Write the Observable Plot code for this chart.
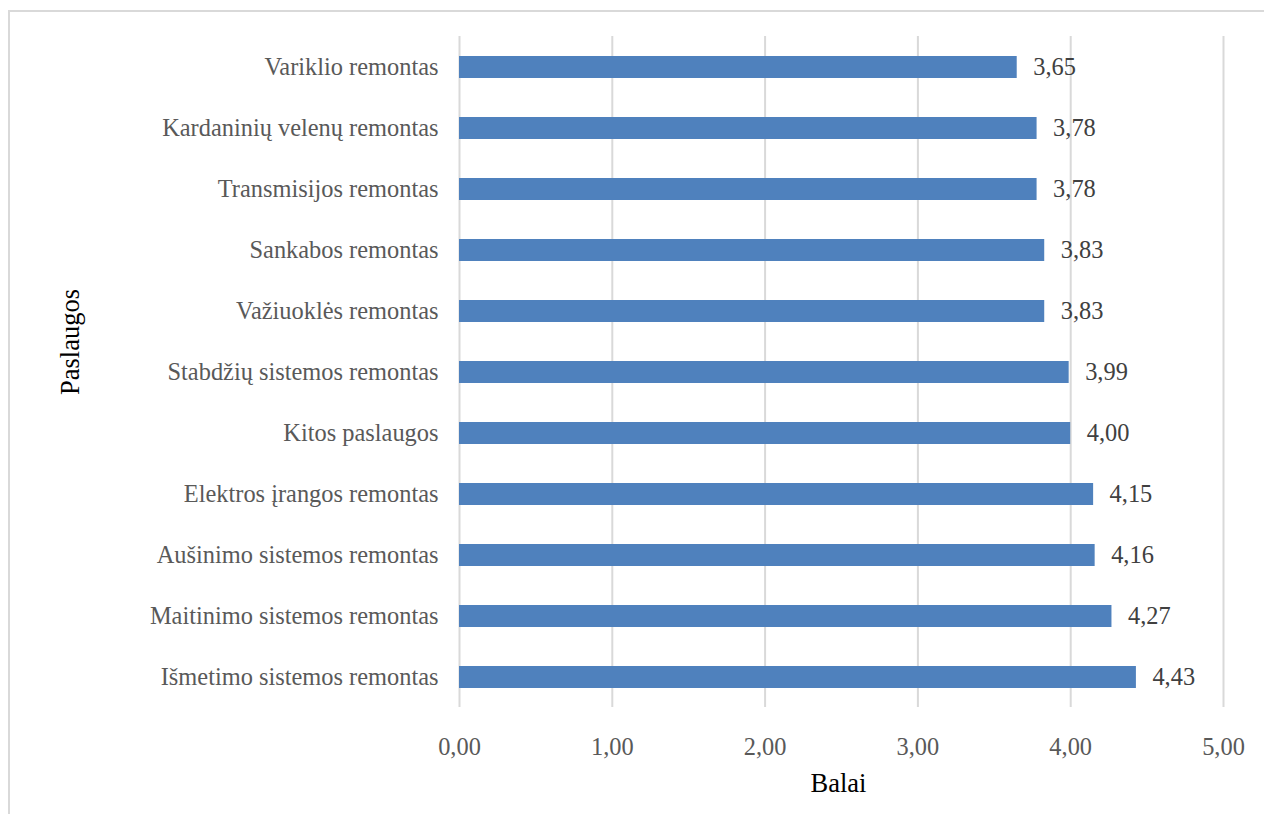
<!DOCTYPE html>
<html>
<head>
<meta charset="utf-8">
<script src="https://cdn.jsdelivr.net/npm/d3@7"></script>
<script src="https://cdn.jsdelivr.net/npm/@observablehq/plot@0.6"></script>
<style>
  html, body { margin: 0; padding: 0; background: #fff; overflow: hidden; }
  #frame { position: absolute; left: 8px; top: 10px; width: 1400px; height: 1000px; border: 2px solid #d9d9d9; box-sizing: border-box; }
  #chart { position: absolute; left: 0; top: 0; }
</style>
</head>
<body>
<div id="frame"></div>
<div id="chart"></div>
<script>
const categories = [
  "Variklio remontas",
  "Kardaninių velenų remontas",
  "Transmisijos remontas",
  "Sankabos remontas",
  "Važiuoklės remontas",
  "Stabdžių sistemos remontas",
  "Kitos paslaugos",
  "Elektros įrangos remontas",
  "Aušinimo sistemos remontas",
  "Maitinimo sistemos remontas",
  "Išmetimo sistemos remontas"
];
const values = [3.65, 3.78, 3.78, 3.83, 3.83, 3.99, 4.00, 4.15, 4.16, 4.27, 4.43];
const xTicks = [0, 1, 2, 3, 4, 5];
const xTitle = "Balai";
const yTitle = "Paslaugos";

const data = categories.map((c, i) => ({cat: c, value: values[i]}));
const fmt = v => d3.format(".2f")(v).replace(".", ",");

const chart = Plot.plot({
  width: 1264,
  height: 814,
  marginLeft: 459,
  marginRight: 41,
  marginTop: 36,
  marginBottom: 107,
  style: {fontFamily: "'Liberation Serif', 'Times New Roman', serif", fontSize: "24.4px", color: "#595959", background: "transparent"},
  x: {domain: [0, 5], label: null},
  y: {domain: categories, paddingInner: 0.64, paddingOuter: 0.32, label: null},
  marks: [
    Plot.gridX(xTicks, {stroke: "#d9d9d9", strokeOpacity: 1, strokeWidth: 2}),
    Plot.barX(data, {x: "value", y: "cat", fill: "#4f81bd"}),
    Plot.text(data, {x: "value", y: "cat", text: d => fmt(d.value), textAnchor: "start", dx: 16, fill: "#404040"}),
    Plot.axisX(xTicks, {tickSize: 0, tickPadding: 30, tickFormat: fmt, label: null}),
    Plot.axisY({tickSize: 0, tickPadding: 21, label: null}),
    Plot.text([xTitle], {frameAnchor: "bottom", lineAnchor: "middle", dy: 76, dx: -3, fill: "#000", fontSize: 26.5}),
    Plot.text([yTitle], {frameAnchor: "left", rotate: -90, lineAnchor: "middle", dx: -389, dy: 23, fill: "#000", fontSize: 26.5})
  ]
});
document.getElementById("chart").appendChild(chart);
</script>
</body>
</html>
